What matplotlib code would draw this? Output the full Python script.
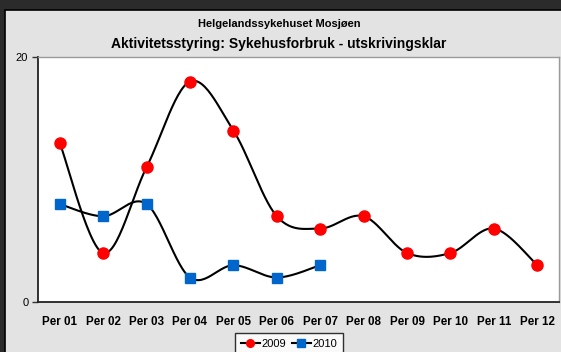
import numpy as np
import matplotlib
matplotlib.use("Agg")
import matplotlib.pyplot as plt
from matplotlib.patches import Rectangle

plt.rcParams['font.family'] = ['Liberation Sans', 'DejaVu Sans']

periods = ["Per 01", "Per 02", "Per 03", "Per 04", "Per 05", "Per 06",
           "Per 07", "Per 08", "Per 09", "Per 10", "Per 11", "Per 12"]
vals_2009 = [13, 4, 11, 18, 14, 7, 6, 7, 4, 4, 6, 3]
vals_2010 = [8, 7, 8, 2, 3, 2, 3]


def smooth(xs, ys, steps=30):
    # bezier smoothing through every point, like a spreadsheet "smoothed line"
    p = np.column_stack([xs, ys]).astype(float)
    p = np.vstack([p[0], p, p[-1]])
    out = []
    for i in range(1, len(p) - 2):
        p0, p1, p2, p3 = p[i], p[i] + (p[i + 1] - p[i - 1]) / 6, p[i + 1] - (p[i + 2] - p[i]) / 6, p[i + 1]
        t = np.linspace(0, 1, steps)[:, None]
        seg = (1 - t) ** 3 * p0 + 3 * (1 - t) ** 2 * t * p1 + 3 * (1 - t) * t ** 2 * p2 + t ** 3 * p3
        out.append(seg if i == 1 else seg[1:])
    out = np.vstack(out)
    return out[:, 0], out[:, 1]


W, H = 561, 352
fig = plt.figure(figsize=(W / 100, H / 100), dpi=100, facecolor="#2b2b2b")

# grey panel with a thin black edge on top and left
fig.patches.append(Rectangle((5 / W, -0.1), 1, (H - 10) / H + 0.1, transform=fig.transFigure,
                             facecolor="#e3e3e3", edgecolor="black", linewidth=1.2, zorder=-10))

ax = fig.add_axes([38 / W, 50 / H, 521 / W, 245 / H])
ax.set_facecolor("white")

x09 = np.arange(len(vals_2009))
x10 = np.arange(len(vals_2010))
sx, sy = smooth(x09, vals_2009)
ax.plot(sx, sy, color="black", linewidth=1.5, zorder=2)
sx, sy = smooth(x10, vals_2010)
ax.plot(sx, sy, color="black", linewidth=1.5, zorder=2)
ax.plot(x09, vals_2009, linestyle="none", marker="o", markersize=8,
        markerfacecolor="red", markeredgecolor="red", zorder=3)
ax.plot(x10, vals_2010, linestyle="none", marker="s", markersize=7.5,
        markerfacecolor="#0066cc", markeredgecolor="#0066cc", zorder=3)

ax.set_xlim(-0.5, len(periods) - 0.5)
ax.set_ylim(0, 20)
ax.set_yticks([0, 20])
ax.set_xticks(x09)
ax.set_xticklabels(periods, fontweight="bold", fontsize=8.4)
ax.tick_params(axis="x", length=0, pad=10)
ax.tick_params(axis="y", length=4, width=1, color="#333333", labelsize=8, pad=3)

for side in ["top", "right"]:
    ax.spines[side].set_color("#9a9a9a")
    ax.spines[side].set_linewidth(1)
for side in ["left", "bottom"]:
    ax.spines[side].set_color("#222222")
    ax.spines[side].set_linewidth(1.3)

fig.text(279 / W, 1 - 24 / H, "Helgelandssykehuset Mosjøen", ha="center", va="center",
         fontsize=8, fontweight="bold")
fig.text(279 / W, 1 - 44 / H, "Aktivitetsstyring: Sykehusforbruk - utskrivingsklar",
         ha="center", va="center", fontsize=10, fontweight="bold")

h1, = ax.plot([], [], color="black", marker="o", markersize=5.5, markerfacecolor="red",
              markeredgecolor="red", linewidth=1.5)
h2, = ax.plot([], [], color="black", marker="s", markersize=5.5, markerfacecolor="#0066cc",
              markeredgecolor="#0066cc", linewidth=1.5)
leg = fig.legend([h1, h2], ["2009", "2010"], loc="upper center", bbox_to_anchor=(289 / W, 1 - 333 / H),
                 ncol=2, frameon=True, fancybox=False, fontsize=8, handlelength=1.7,
                 handletextpad=0.15, columnspacing=0.5, borderpad=0.55, borderaxespad=0)
leg.get_frame().set_edgecolor("black")
leg.get_frame().set_linewidth(1)
leg.get_frame().set_facecolor("white")

fig.savefig("out.png", dpi=100, facecolor=fig.get_facecolor())
